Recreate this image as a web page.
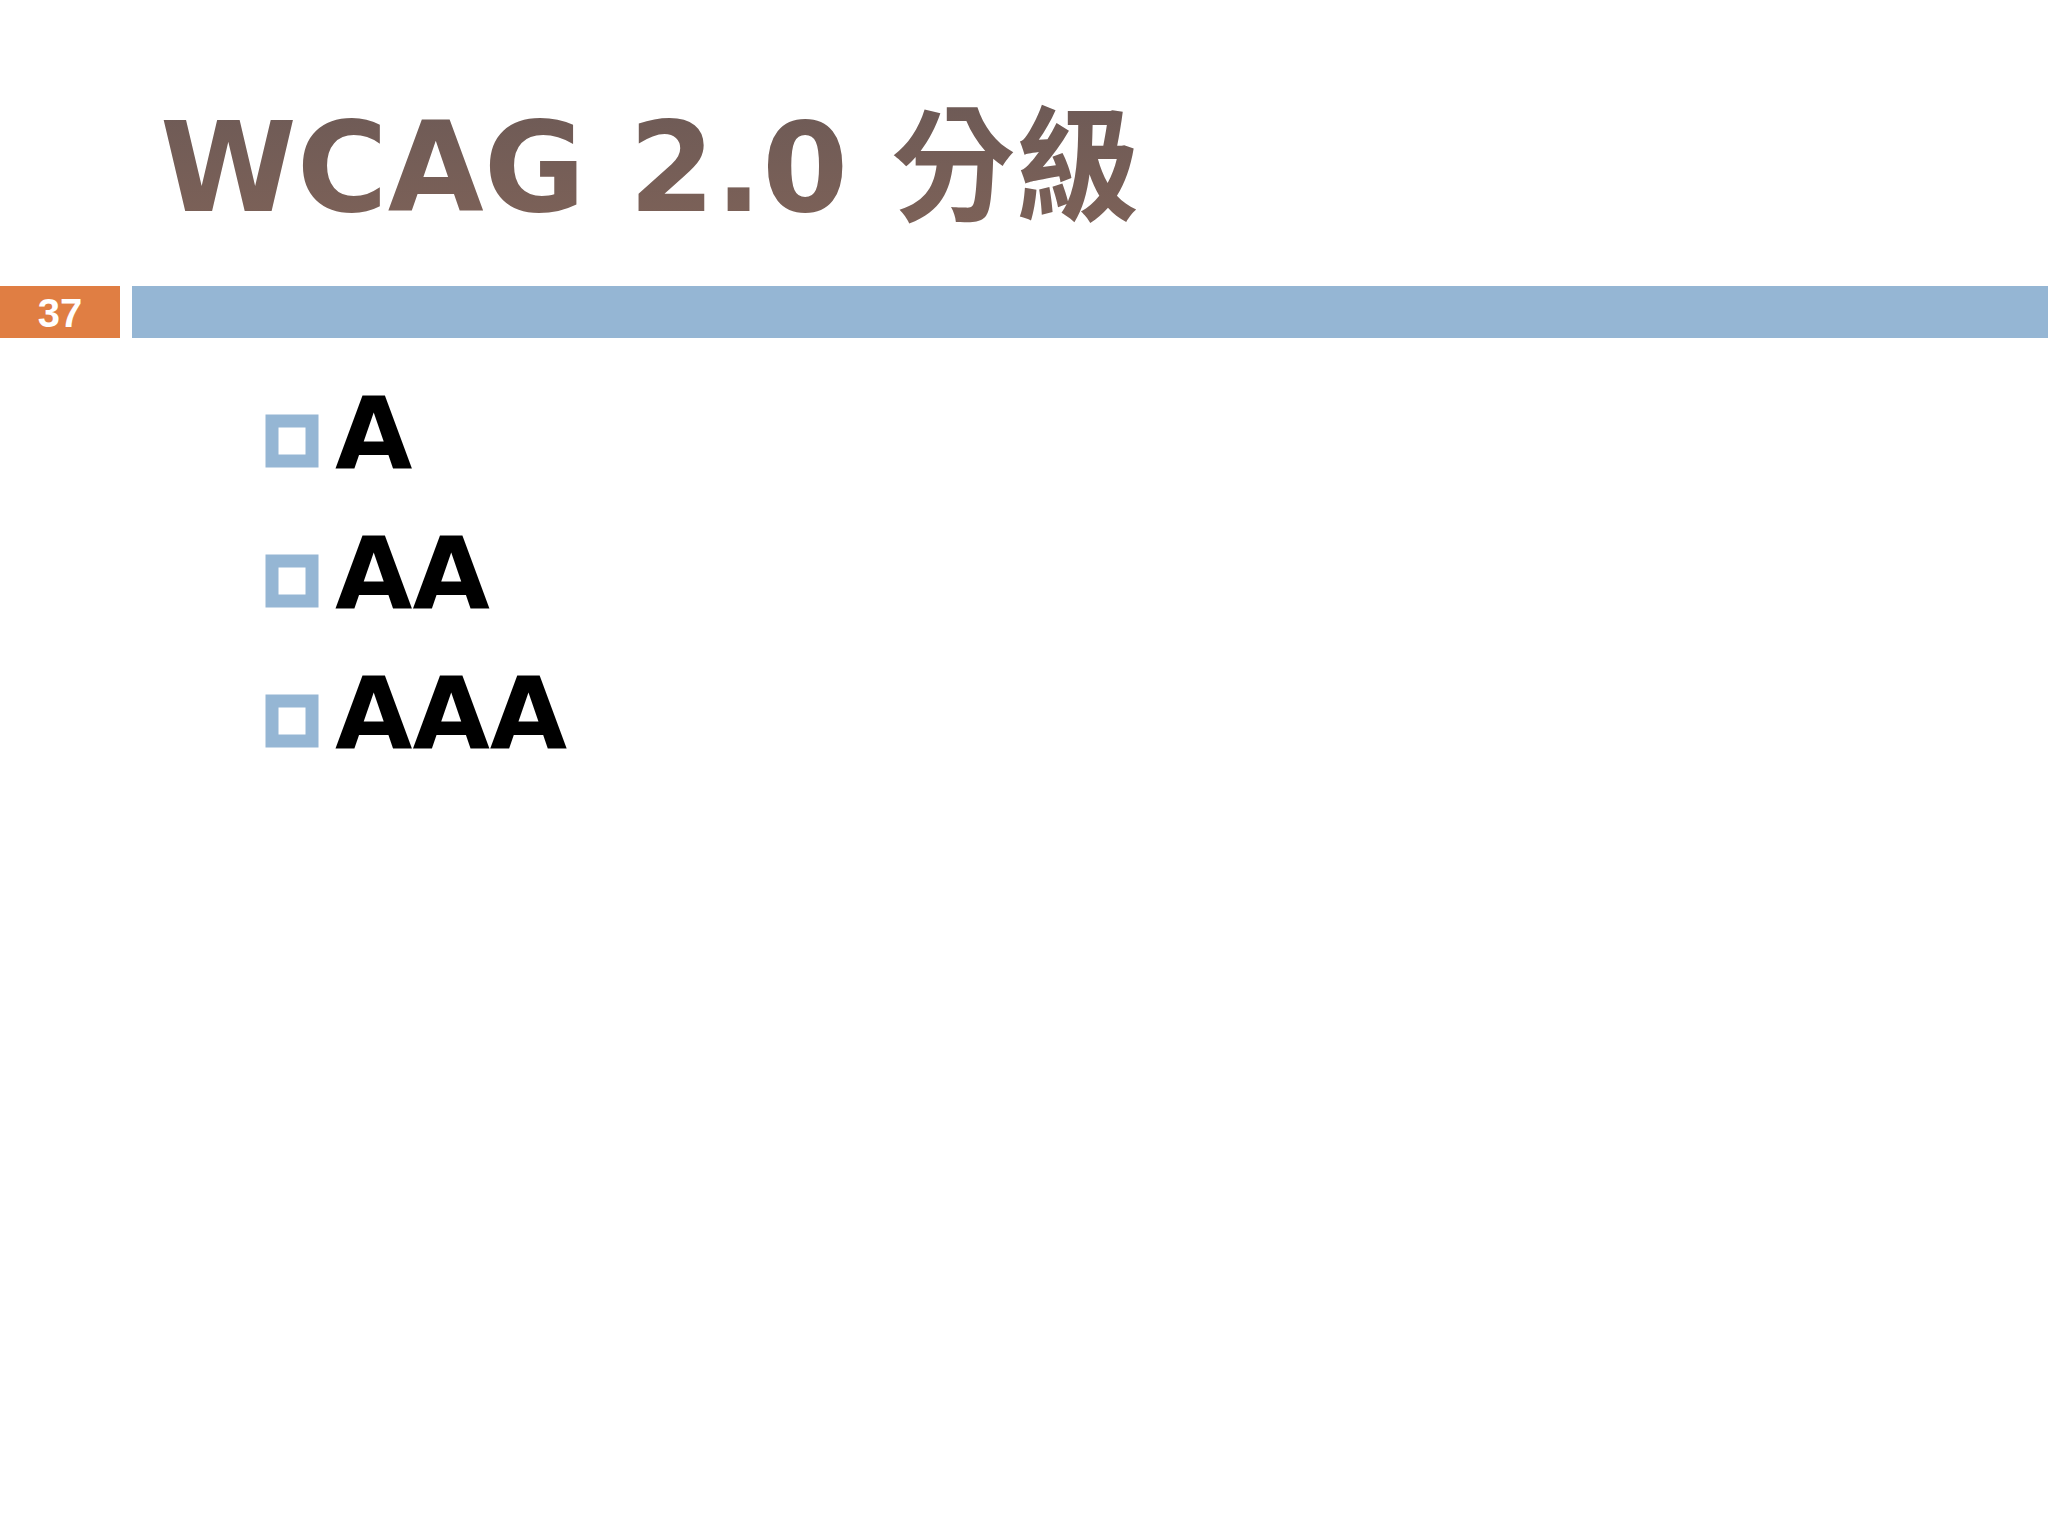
<!DOCTYPE html>
<html><head><meta charset="utf-8">
<script src="https://cdn.jsdelivr.net/npm/chart.js"></script>
<style>html,body{margin:0;padding:0;background:#fff;width:2048px;height:1536px;overflow:hidden}</style>
</head><body>
<script>
const slideNumber = "37";
const titleText = "WCAG 2.0 分級";
const bulletItems = ["A", "AA", "AAA"];
const ns = "http://www.w3.org/2000/svg";
const svg = document.createElementNS(ns, "svg");
svg.setAttribute("width", 2048); svg.setAttribute("height", 1536);
document.body.appendChild(svg);
function el(tag, attrs, text) {
  const e = document.createElementNS(ns, tag);
  for (const k in attrs) e.setAttribute(k, attrs[k]);
  if (text) e.textContent = text;
  svg.appendChild(e); return e;
}
const defs = el("defs", {});
defs.innerHTML = '<linearGradient id="g" x1="0" y1="0" x2="0" y2="1"><stop offset="0" stop-color="#6d5a56"/><stop offset="1" stop-color="#7e6258"/></linearGradient>';
el("text", {x: 160, y: 211, "font-family": "DejaVu Sans, Noto Sans CJK TC", "font-weight": "bold", "font-size": 124, fill: "url(#g)"}, titleText);
el("rect", {x: 0, y: 286, width: 120, height: 52, fill: "#e07e43"});
el("rect", {x: 132, y: 286, width: 1916, height: 52, fill: "#95b6d4"});
el("text", {x: 60, y: 327, "text-anchor": "middle", "font-family": "Liberation Sans, Arial", "font-weight": "bold", "font-size": 40, fill: "#fff"}, slideNumber);
bulletItems.forEach((t, i) => {
  const base = 468 + i * 140;
  el("rect", {x: 272, y: base - 47, width: 40, height: 40, fill: "none", stroke: "#95b6d4", "stroke-width": 13});
  el("text", {x: 335, y: base, "font-family": "DejaVu Sans", "font-weight": "bold", "font-size": 100, fill: "#000"}, t);
});
</script>
</body></html>
